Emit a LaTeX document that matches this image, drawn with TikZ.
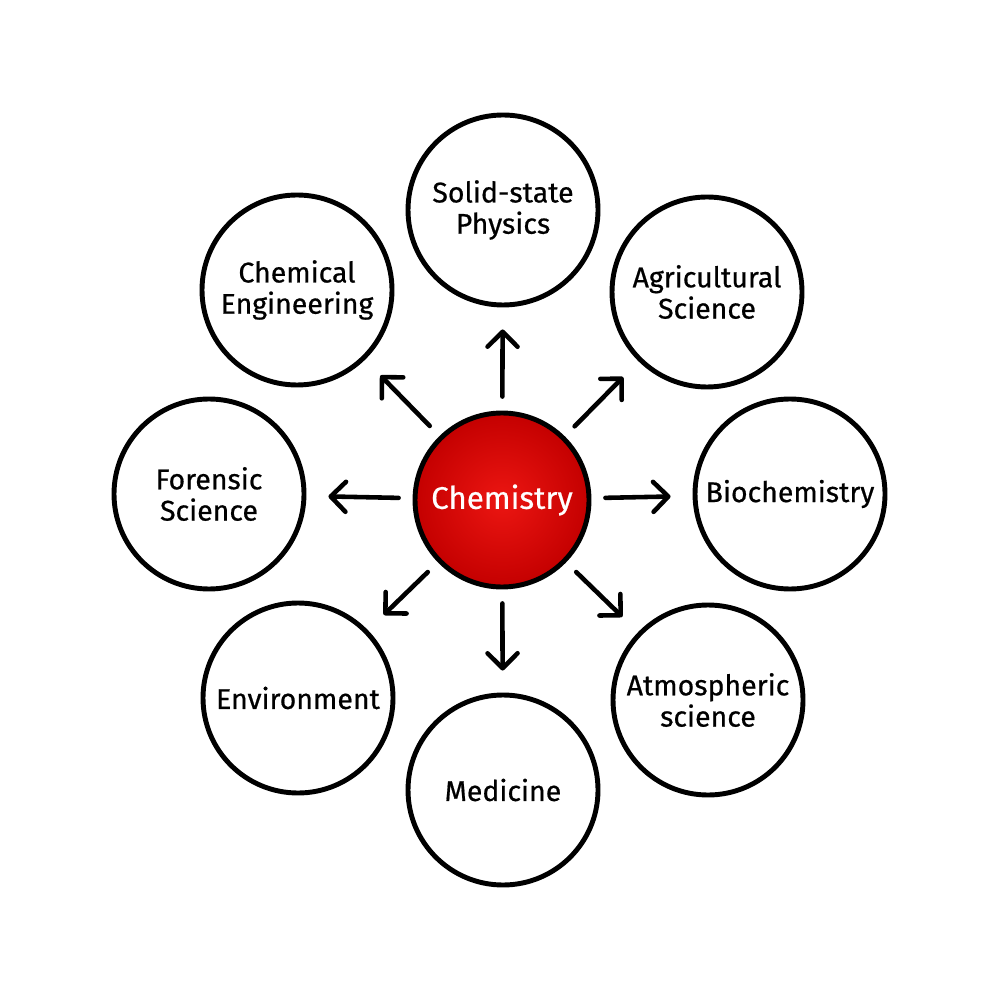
\documentclass[tikz,border=0pt]{standalone}
\usepackage{fontspec}
\setmainfont{Fira Sans}
\newfontfamily\handfont[FakeBold=0.6]{Fira Sans}
\usepackage{xcolor}
\usetikzlibrary{arrows.meta}

\definecolor{chemred}{RGB}{236,22,18}
\definecolor{chemdark}{RGB}{196,0,0}

\begin{document}
\begin{tikzpicture}[
    field/.style={circle, draw=black, line width=1.4pt, fill=white, minimum size=1.9cm, inner sep=0pt, align=center, font=\handfont\fontsize{8.1}{8.9}\selectfont},
    core/.style={circle, draw=black, line width=1.4pt, inner color=chemred, outer color=chemdark, minimum size=1.74cm, inner sep=0pt, text=white, font=\handfont\fontsize{8.9}{10}\selectfont},
    arr/.style={-{Straight Barb[length=1.5mm, width=3mm, round]}, line width=1.3pt, line cap=round, shorten <=0.14cm, shorten >=0.22cm}
]
    \useasboundingbox (0,0) rectangle (10,-10);

    % center: chemistry
    \node[core] (chemistry) at (5.02,-5.00) {Chemistry};

    % ring of fields, clockwise from the top
    \node[field] (physics) at (5.03,-2.10) {Solid-state\\Physics};
    \node[field] (agri) at (7.07,-2.92) {Agricultural\\Science};
    \node[field] (biochem) at (7.90,-4.94) {Biochemistry};
    \node[field] (atmo) at (7.08,-7.00) {Atmospheric\\science};
    \node[field] (medicine) at (5.03,-7.90) {Medicine};
    \node[field] (environment) at (2.98,-6.98) {Environment};
    \node[field] (forensic) at (2.09,-4.94) {Forensic\\Science};
    \node[field] (chemeng) at (2.97,-2.90) {Chemical\\Engineering};

    % arrows outwards
    \draw[arr] (chemistry) -- (physics);
    \draw[arr] (chemistry) -- (agri);
    \draw[arr] (chemistry) -- (biochem);
    \draw[arr] (chemistry) -- (atmo);
    \draw[arr] (chemistry) -- (medicine);
    \draw[arr] (chemistry) -- (environment);
    \draw[arr] (chemistry) -- (forensic);
    \draw[arr] (chemistry) -- (chemeng);
\end{tikzpicture}
\end{document}
